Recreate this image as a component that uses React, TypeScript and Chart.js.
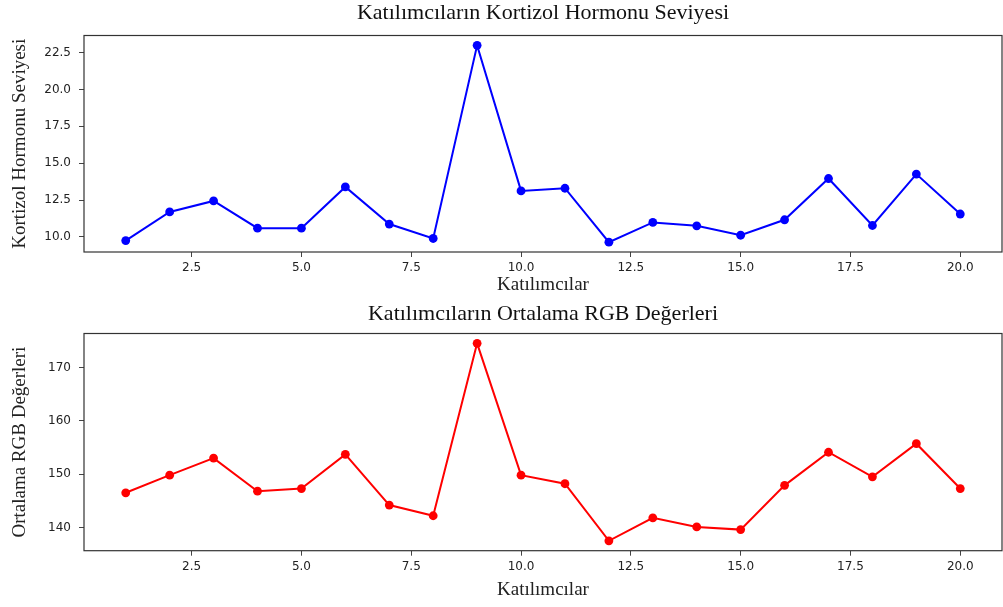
import React, { useEffect, useRef } from "react";
import { Chart, registerables } from "chart.js";

Chart.register(...registerables);

const participants = [1, 2, 3, 4, 5, 6, 7, 8, 9, 10, 11, 12, 13, 14, 15, 16, 17, 18, 19, 20];
const cortisol = [9.75, 11.69, 12.44, 10.59, 10.59, 13.39, 10.87, 9.89, 23.0, 13.12, 13.3, 9.64, 10.98, 10.75, 10.11, 11.16, 13.96, 10.77, 14.26, 11.55];
const rgbMean = [146.5, 149.8, 153.0, 146.8, 147.3, 153.7, 144.2, 142.2, 174.5, 149.8, 148.2, 137.5, 141.8, 140.1, 139.6, 147.9, 154.1, 149.5, 155.7, 147.3];

const xTicks = [2.5, 5.0, 7.5, 10.0, 12.5, 15.0, 17.5, 20.0];
const cortisolTicks = [10.0, 12.5, 15.0, 17.5, 20.0, 22.5];
const rgbTicks = [140, 150, 160, 170];

const topTitle = "Katılımcıların Kortizol Hormonu Seviyesi";
const bottomTitle = "Katılımcıların Ortalama RGB Değerleri";
const xLabel = "Katılımcılar";
const topYLabel = "Kortizol Hormonu Seviyesi";
const bottomYLabel = "Ortalama RGB Değerleri";

const SERIF = "'Liberation Serif', 'Times New Roman', serif";
const SANS = "'DejaVu Sans', sans-serif";

function pad(values: number[]) {
  const lo = Math.min(...values);
  const hi = Math.max(...values);
  const m = (hi - lo) * 0.05;
  return { min: lo - m, max: hi + m };
}

const framePlugin = {
  id: "frame",
  afterDraw(chart: any) {
    const { ctx, chartArea } = chart;
    ctx.save();
    ctx.strokeStyle = "#333";
    ctx.lineWidth = 1.2;
    ctx.strokeRect(chartArea.left, chartArea.top, chartArea.right - chartArea.left, chartArea.bottom - chartArea.top);
    ctx.restore();
  },
};

interface Opts {
  values: number[];
  color: string;
  yTicks: number[];
  yDecimals: number;
  title: string;
  yLabel: string;
  topH: number;
  bottomH: number;
  titlePadTop: number;
  xLabelPadBottom: number;
}

function makeConfig(o: Opts): any {
  const xr = pad(participants);
  const yr = pad(o.values);
  return {
    type: "line",
    data: {
      datasets: [
        {
          data: participants.map((p, i) => ({ x: p, y: o.values[i] })),
          borderColor: o.color,
          backgroundColor: o.color,
          pointBackgroundColor: o.color,
          pointBorderColor: o.color,
          pointBorderWidth: 0,
          pointRadius: 4.4,
          borderWidth: 2,
          tension: 0,
          xAxisID: "x",
          yAxisID: "y",
        },
      ],
    },
    options: {
      responsive: false,
      animation: false,
      events: [],
      layout: { autoPadding: false, padding: { left: 0, right: 1, top: 0, bottom: 0 } },
      plugins: { legend: { display: false }, tooltip: { enabled: false }, title: { display: false } },
      scales: {
        x: {
          type: "linear",
          position: "bottom",
          min: xr.min,
          max: xr.max,
          afterBuildTicks: (s: any) => {
            s.ticks = xTicks.map((v) => ({ value: v }));
          },
          afterFit: (s: any) => {
            s.height = o.bottomH;
          },
          ticks: {
            autoSkip: false,
            maxRotation: 0,
            padding: 4,
            color: "#222",
            font: { family: SANS, size: 12 },
            callback: (v: any) => Number(v).toFixed(1),
          },
          grid: { display: true, drawOnChartArea: false, drawTicks: true, tickLength: 5, tickColor: "#444" },
          border: { display: false },
          title: {
            display: true,
            text: xLabel,
            color: "#222",
            font: { family: SERIF, size: 19 },
            padding: { top: 0, bottom: o.xLabelPadBottom },
          },
        },
        xTop: {
          type: "linear",
          position: "top",
          min: xr.min,
          max: xr.max,
          afterFit: (s: any) => {
            s.height = o.topH;
          },
          ticks: { display: false },
          grid: { display: false },
          border: { display: false },
          title: {
            display: true,
            text: o.title,
            color: "#111",
            font: { family: SERIF, size: 22 },
            padding: { top: o.titlePadTop, bottom: 0 },
          },
        },
        y: {
          type: "linear",
          position: "left",
          min: yr.min,
          max: yr.max,
          afterBuildTicks: (s: any) => {
            s.ticks = o.yTicks.map((v) => ({ value: v }));
          },
          afterFit: (s: any) => {
            s.width = 84;
          },
          ticks: {
            autoSkip: false,
            padding: 8,
            color: "#222",
            font: { family: SANS, size: 12 },
            callback: (v: any) => Number(v).toFixed(o.yDecimals),
          },
          grid: { display: true, drawOnChartArea: false, drawTicks: true, tickLength: 5, tickColor: "#444" },
          border: { display: false },
          title: {
            display: true,
            text: o.yLabel,
            color: "#222",
            font: { family: SERIF, size: 19 },
            padding: { top: 8.6, bottom: 0 },
          },
        },
      },
    },
    plugins: [framePlugin],
  };
}

export default function App() {
  const topRef = useRef<HTMLCanvasElement | null>(null);
  const bottomRef = useRef<HTMLCanvasElement | null>(null);

  useEffect(() => {
    document.body.style.margin = "0";
    const c1 = new Chart(
      topRef.current as HTMLCanvasElement,
      makeConfig({
        values: cortisol,
        color: "#0000ff",
        yTicks: cortisolTicks,
        yDecimals: 1,
        title: topTitle,
        yLabel: topYLabel,
        topH: 35.5,
        bottomH: 48,
        titlePadTop: 0,
        xLabelPadBottom: 3.6,
      })
    );
    const c2 = new Chart(
      bottomRef.current as HTMLCanvasElement,
      makeConfig({
        values: rgbMean,
        color: "#ff0000",
        yTicks: rgbTicks,
        yDecimals: 0,
        title: bottomTitle,
        yLabel: bottomYLabel,
        topH: 33.5,
        bottomH: 56.3,
        titlePadTop: 1,
        xLabelPadBottom: 5.1,
      })
    );
    return () => {
      c1.destroy();
      c2.destroy();
    };
  }, []);

  return (
    <div style={{ position: "absolute", left: 0, top: 0, width: 1003, height: 607, background: "#fff" }}>
      <canvas ref={topRef} width={1003} height={300} style={{ position: "absolute", left: 0, top: 0, display: "block" }} />
      <canvas ref={bottomRef} width={1003} height={307} style={{ position: "absolute", left: 0, top: 300, display: "block" }} />
    </div>
  );
}
